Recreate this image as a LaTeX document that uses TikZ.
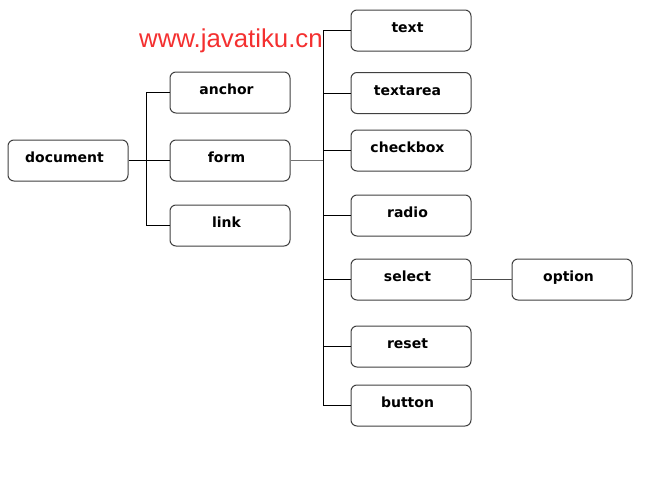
\documentclass[tikz,border=0pt]{standalone}
\usepackage{fontspec}
\usepackage{xcolor}
\usepackage{tikz}
\usetikzlibrary{positioning}
\newfontfamily\boxfont{DejaVu Sans}
\newfontfamily\markfont{Liberation Sans}
\definecolor{markred}{HTML}{F43030}

\begin{document}
\begin{tikzpicture}[x=1pt, y=-1pt,
  tag/.style={draw=black!75, line width=1pt, rounded corners=6pt, fill=white,
    minimum width=120pt, minimum height=41pt, inner sep=0pt,
    text height=9.5pt, text depth=5pt, execute at end node={\kern7pt},
    font=\boxfont\bfseries\fontsize{14}{16}\selectfont},
  ln/.style={line width=0.8pt, black}]
  \useasboundingbox (0,0) rectangle (665,485);
  \node[anchor=base west, text=markred, inner sep=0pt,
    font=\markfont\fontsize{25.8}{28}\selectfont] (site) at (139,47) {www.javatiku.cn};
  % first level
  \node[tag] (doc) at (68,160.5) {document};
  \node[tag] (anchor) at (230,92.5) {anchor};
  \node[tag] (form) at (230,160.5) {form};
  \node[tag] (link) at (230,225.5) {link};
  % form children
  \node[tag] (text) at (411,30.5) {text};
  \node[tag] (textarea) at (411,93) {textarea};
  \node[tag] (checkbox) at (411,150.5) {checkbox};
  \node[tag] (radio) at (411,215.5) {radio};
  \node[tag] (select) at (411,279.5) {select};
  \node[tag] (reset) at (411,346.5) {reset};
  \node[tag] (button) at (411,405.5) {button};
  \node[tag, right=40pt of select] (option) {option};
  \coordinate (dfork) at (146,161);
  \coordinate (ffork) at (323,161);
  % connectors
  \draw[ln] (doc.east) -- (form.west);
  \draw[ln] (anchor.west -| dfork) -- (link.west -| dfork);
  \draw[ln] (anchor.west) -- (anchor.west -| dfork);
  \draw[ln] (link.west) -- (link.west -| dfork);
  \draw[ln, black!55, line width=1.8pt] (form.east) -- (form.east -| ffork);
  \draw[ln] (text.west -| ffork) -- (button.west -| ffork);
  \foreach \n in {text,textarea,checkbox,radio,select,reset,button}
    \draw[ln] (\n.west) -- (\n.west -| ffork);
  \draw[ln, black!70, line width=1.1pt] (select) -- (option);
\end{tikzpicture}
\end{document}
